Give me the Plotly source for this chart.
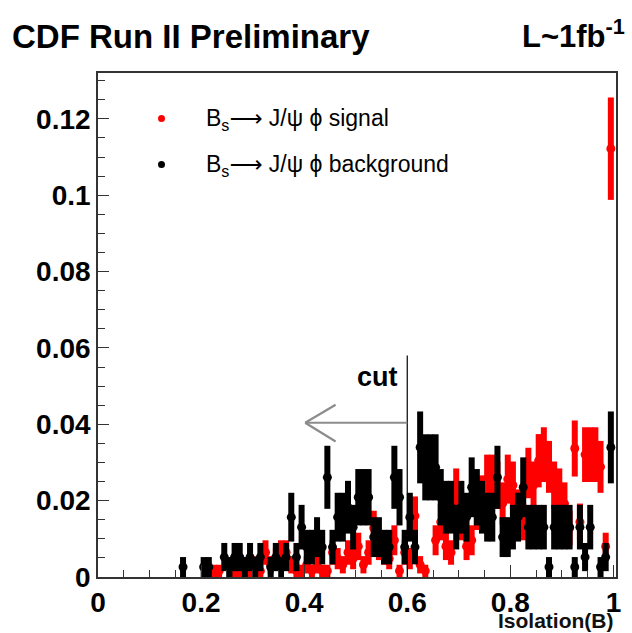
import numpy as np
import plotly.graph_objects as go

# ---- data (counts per 0.01-wide bin, Isolation 0..1) ----
bin_centres = [round(0.005 + 0.01 * i, 3) for i in range(100)]

signal_counts = [0] * 21 + [
    1, 1, 1, 0, 0, 1, 1, 0, 1,          # 21-29
    2, 1, 4, 2, 3, 4, 4, 2, 1, 1,       # 30-39
    2, 1, 2, 1, 1, 4, 3, 2, 4, 3,       # 40-49
    5, 2, 4, 8, 5, 4, 3, 6, 1, 4,       # 50-59
    3, 10, 2, 1, 0, 6, 9, 5, 4, 14,     # 60-69
    9, 5, 6, 11, 13, 16, 16, 15, 12, 16,  # 70-79
    15, 11, 9, 17, 15, 19, 20, 18, 15, 14,  # 80-89
    12, 8, 21, 9, 20, 20, 20, 18, 5, 70,  # 90-99
]

background_counts = [0] * 16 + [
    1, 0, 0, 0, 1, 1, 0, 0,             # 16-23
    2, 1, 2, 2, 1, 2,                   # 24-29
    1, 2, 0, 1, 2, 1, 2, 6, 2, 5,       # 30-39
    3, 3, 4, 3, 10, 3, 6, 6, 7, 5,      # 40-49
    8, 8, 8, 4, 4, 3, 3, 10, 8, 3,      # 50-59
    6, 3, 13, 11, 11, 11, 8, 7, 7, 5,   # 60-69
    7, 6, 9, 8, 7, 6, 6, 10, 4, 4,      # 70-79
    5, 6, 9, 5, 5, 5, 5, 1, 5, 5,       # 80-89
    5, 5, 1, 5, 2, 5, 0, 1, 2, 13,      # 90-99
]

ARROW = '<span style="font-family:DejaVu Sans">\u27f6</span>'
signal_label = "B<sub>s</sub>" + ARROW + " J/\u03c8 \u03d5 signal"
background_label = "B<sub>s</sub>" + ARROW + " J/\u03c8 \u03d5 background"
x_ticks = [0, 0.2, 0.4, 0.6, 0.8, 1.0]
x_ticktext = ["0", "0.2", "0.4", "0.6", "0.8", "1"]
y_ticks = [0, 0.02, 0.04, 0.06, 0.08, 0.1, 0.12]
y_ticktext = ["0", "0.02", "0.04", "0.06", "0.08", "0.1", "0.12"]
cut_value = 0.6


def normalised(counts):
    c = np.array(counts, dtype=float)
    tot = c.sum()
    y = np.where(c > 0, c / tot, np.nan)
    e = np.where(c > 0, np.sqrt(c) / tot, np.nan)
    return y, e


FONT = "Liberation Sans, Arial, Helvetica, sans-serif"

fig = go.Figure()
for counts, color in [(signal_counts, "#ff0000"), (background_counts, "#000000")]:
    y, e = normalised(counts)
    fig.add_trace(go.Scatter(
        x=bin_centres, y=y, mode="markers",
        marker=dict(color=color, size=9, symbol="circle"),
        error_y=dict(type="data", array=e, visible=True, color=color,
                     thickness=6, width=0),
        showlegend=False, hoverinfo="skip",
    ))

# cut line and arrow
fig.add_shape(type="line", xref="x", yref="y", x0=cut_value, x1=cut_value,
              y0=0, y1=0.058, line=dict(color="black", width=1.2))
fig.add_shape(type="line", xref="x", yref="y", x0=cut_value, x1=0.402,
              y0=0.0404, y1=0.0404, line=dict(color="#8c8c8c", width=2.2))
fig.add_shape(type="line", xref="x", yref="y", x0=0.402, x1=0.461,
              y0=0.0404, y1=0.0451, line=dict(color="#8c8c8c", width=2.2))
fig.add_shape(type="line", xref="x", yref="y", x0=0.402, x1=0.461,
              y0=0.0404, y1=0.0355, line=dict(color="#8c8c8c", width=2.2))
fig.add_annotation(text="<b>cut</b>", xref="x", yref="y", x=0.585, y=0.0525,
                   xanchor="right", yanchor="middle", showarrow=False,
                   font=dict(family=FONT, size=27, color="black"))

# legend (drawn manually like the ROOT TLegend)
fig.add_shape(type="circle", xref="paper", yref="paper",
              x0=(158 - 98) / 518, x1=(165 - 98) / 518,
              y0=(577 - 122) / 504, y1=(577 - 115) / 504,
              fillcolor="#ff0000", line=dict(width=0))
fig.add_shape(type="circle", xref="paper", yref="paper",
              x0=(158 - 98) / 518, x1=(165 - 98) / 518,
              y0=(577 - 168) / 504, y1=(577 - 161) / 504,
              fillcolor="black", line=dict(width=0))
for label, ypix in [(signal_label, 119), (background_label, 165)]:
    fig.add_annotation(text=label, xref="paper", yref="paper",
                       x=(204 - 98) / 518, y=(577 - ypix) / 504,
                       xanchor="left", yanchor="middle", showarrow=False,
                       font=dict(family=FONT, size=23, color="black"))

# titles
fig.add_annotation(text="<b>CDF Run II Preliminary</b>", xref="paper", yref="paper",
                   x=(10 - 98) / 518, y=(577 - 36) / 504, xanchor="left",
                   yanchor="middle", showarrow=False,
                   font=dict(family=FONT, size=33, color="black"))
fig.add_annotation(text="<b>L~1fb<sup>-1</sup></b>", xref="paper", yref="paper",
                   x=(627 - 98) / 518, y=(577 - 34) / 504, xanchor="right",
                   yanchor="middle", showarrow=False,
                   font=dict(family=FONT, size=31, color="black"))
fig.add_annotation(text="<b>Isolation(B)</b>", xref="paper", yref="paper",
                   x=1.0, y=(577 - 620) / 504, xanchor="right",
                   yanchor="middle", showarrow=False,
                   font=dict(family=FONT, size=21, color="#111111"))

axis_common = dict(showline=True, linecolor="#333333", linewidth=1.6, mirror=True,
                   ticks="inside", tickcolor="#333333", tickwidth=1.3,
                   showgrid=False, zeroline=False,
                   tickfont=dict(family=FONT, size=28, color="black", weight="bold"))

fig.update_layout(
    width=632, height=633,
    margin=dict(l=98, r=16, t=73, b=56),
    paper_bgcolor="white", plot_bgcolor="white",
    xaxis=dict(range=[0, 1.005], tickvals=x_ticks, ticktext=x_ticktext, ticklen=12,
               minor=dict(dtick=0.05, tick0=0, ticks="inside", ticklen=7,
                          tickcolor="#333333", tickwidth=1.2),
               **axis_common),
    yaxis=dict(range=[0, 0.132], tickvals=y_ticks, ticktext=y_ticktext, ticklen=11,
               minor=dict(dtick=0.005, tick0=0, ticks="inside", ticklen=7,
                          tickcolor="#333333", tickwidth=1.2),
               **axis_common),
)

fig.write_html("out.html")
